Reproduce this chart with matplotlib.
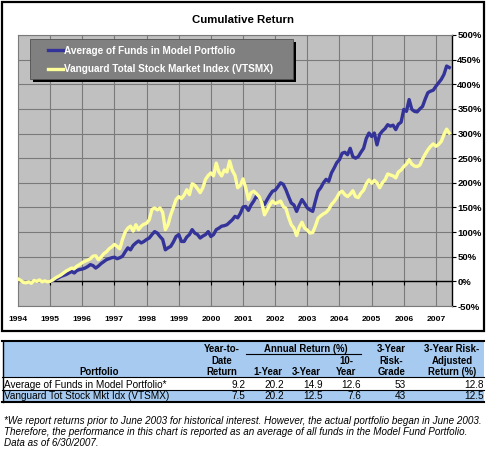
import numpy as np
import matplotlib
matplotlib.use("Agg")
import matplotlib.pyplot as plt
from matplotlib.patches import Rectangle
from matplotlib.lines import Line2D

plt.rcParams['font.family'] = ['Liberation Sans', 'DejaVu Sans']

W, H = 486, 449

# ---------------- data ----------------
start_year = 1994
year_ticks = list(range(1994, 2008))
ytick_vals = list(range(-50, 501, 50))
series_names = ["Average of Funds in Model Portfolio",
                "Vanguard Total Stock Market Index (VTSMX)"]

nan = np.nan
model_portfolio = [
    # 1994 (no data)
    nan, nan, nan, nan, nan, nan, nan, nan, nan, nan, nan, nan,
    # 1995
    0, 2, 4, 7, 10, 12, 14, 17, 20, 17, 22, 24,
    # 1996
    25, 27, 30, 34, 32, 27, 31, 36, 40, 44, 46, 48,
    # 1997
    49, 46, 48, 51, 60, 68, 64, 73, 78, 82, 78, 81,
    # 1998
    85, 88, 95, 101, 98, 91, 85, 64, 68, 71, 80, 91,
    # 1999
    95, 81, 81, 90, 95, 105, 98, 95, 88, 92, 95, 101,
    # 2000
    91, 95, 105, 108, 112, 113, 115, 120, 125, 132, 129, 138,
    # 2001
    151, 152, 144, 155, 163, 173, 169, 162, 156, 166, 175, 183,
    # 2002
    185, 192, 200, 197, 186, 172, 159, 155, 142, 155, 166, 158,
    # 2003
    149, 145, 142, 163, 183, 190, 200, 207, 203, 220, 230, 241,
    # 2004
    247, 260, 262, 257, 270, 253, 250, 253, 262, 270, 290, 301,
    # 2005
    294, 301, 277, 298, 305, 310, 318, 315, 317, 308, 319, 323,
    # 2006
    349, 345, 369, 349, 345, 344, 350, 355, 370, 383, 386, 388,
    # 2007
    396, 403, 410, 420, 437, 434,
]

vtsmx = [
    # 1994
    5, 2, -2, -3, -1, -4, 2, 0, 3, -1, 1, -1,
    # 1995
    0, 3, 7, 10, 13, 17, 21, 24, 27, 26, 31, 34,
    # 1996
    38, 41, 43, 46, 51, 52, 44, 49, 56, 60, 66, 70,
    # 1997
    75, 71, 66, 85, 100, 108, 112, 102, 115, 105, 112, 116,
    # 1998
    118, 125, 146, 149, 145, 149, 140, 105, 115, 135, 150, 166,
    # 1999
    172, 168, 175, 186, 176, 198, 195, 188, 180, 190, 207, 215,
    # 2000
    220, 214, 240, 222, 214, 226, 222, 244, 225, 215, 190, 195,
    # 2001
    208, 190, 166, 180, 183, 178, 172, 160, 135, 145, 155, 163,
    # 2002
    158, 160, 163, 152, 148, 130, 115, 108, 93, 110, 120, 108,
    # 2003
    104, 98, 99, 112, 128, 133, 137, 140, 146, 156, 162, 170,
    # 2004
    180, 183, 176, 172, 177, 184, 172, 170, 179, 185, 198, 206,
    # 2005
    199, 205, 200, 190, 200, 206, 218, 216, 214, 210, 222, 226,
    # 2006
    233, 238, 247, 238, 234, 233, 236, 248, 258, 267, 274, 279,
    # 2007
    274, 278, 284, 298, 309, 301,
]

table_portfolios = ["Average of Funds in Model Portfolio*",
                    "Vanguard Tot Stock Mkt Idx (VTSMX)"]
ytd_return = ["9.2", "7.5"]
one_year = ["20.2", "20.2"]
three_year = ["14.9", "12.5"]
ten_year = ["12.6", "7.6"]
risk_grade = ["53", "43"]
risk_adj_return = ["12.8", "12.5"]

footnote_lines = [
    "*We report returns prior to June 2003 for historical interest. However, the actual portfolio began in June 2003.",
    "Therefore, the performance in this chart is reported as an average of all funds in the Model Fund Portfolio.",
    "Data as of 6/30/2007.",
]

# ---------------- figure ----------------
fig = plt.figure(figsize=(W / 100, H / 100), dpi=100)
fig.patch.set_facecolor('white')


def fx(x):
    return x / W


def fy(y):
    return 1 - y / H


# outer chart border
fig.add_artist(Rectangle((fx(2), fy(331)), (484 - 2) / W, (331 - 2) / H,
                         transform=fig.transFigure, fill=False,
                         ec='black', lw=1.6, zorder=0))

fig.text(fx(243), fy(23.3), "Cumulative Return", ha='center', va='baseline',
         fontsize=8.2, weight='bold')

ax = fig.add_axes([fx(18), fy(306), (452 - 18) / W, (306 - 35) / H])
ax.set_facecolor('#C0C0C0')
ax.set_xlim(1994, 2007.5)
ax.set_ylim(-50, 500)

x = start_year + np.arange(len(vtsmx)) / 12.0
xm = start_year + np.arange(len(model_portfolio)) / 12.0

# grid
for yr in year_ticks[1:]:
    ax.axvline(yr, color='#7a7a7a', lw=0.8, zorder=1)
for v in ytick_vals:
    ax.axhline(v, color='#7a7a7a', lw=0.8, zorder=1)
ax.axhline(0, color='black', lw=1.0, zorder=2)
ax.vlines(year_ticks, -7, 0, color='black', lw=0.8, zorder=2)

l1, = ax.plot(xm, model_portfolio, color='#333399', lw=2.4, zorder=3,
              solid_joinstyle='round', label=series_names[0])
l2, = ax.plot(x, vtsmx, color='#FFFF99', lw=2.4, zorder=4,
              solid_joinstyle='round', label=series_names[1])

for s in ['left', 'top', 'bottom']:
    ax.spines[s].set_color('#7a7a7a')
    ax.spines[s].set_linewidth(0.8)
ax.spines['right'].set_color('black')
ax.spines['right'].set_linewidth(1.0)

ax.yaxis.tick_right()
ax.set_yticks(ytick_vals)
ax.set_yticklabels([f"{v}%" for v in ytick_vals])
ax.tick_params(axis='y', direction='out', length=3, width=0.8, pad=0.8,
               labelsize=6.8, colors='black')
for t in ax.get_yticklabels():
    t.set_fontweight('bold')
ax.set_xticks(year_ticks)
ax.set_xticklabels([str(y) for y in year_ticks])
ax.tick_params(axis='x', length=0, pad=7, labelsize=6.1)
for t in ax.get_xticklabels():
    t.set_fontweight('bold')

# legend box with shadow
fig.add_artist(Rectangle((fx(32.5), fy(81.5)), (293 - 30) / W, (79 - 39) / H,
                         transform=fig.transFigure, fc='black', ec='none', zorder=5))
fig.add_artist(Rectangle((fx(30), fy(79)), (293 - 30) / W, (79 - 39) / H,
                         transform=fig.transFigure, fc='#808080', ec='#505050',
                         lw=0.6, zorder=6))
leg = fig.legend(handles=[l1, l2], labels=series_names, loc='upper left',
                 bbox_to_anchor=(fx(48), fy(45.5)), bbox_transform=fig.transFigure,
                 frameon=False, borderpad=0, borderaxespad=0,
                 handlelength=1.5, handletextpad=0.15, labelspacing=0.85,
                 prop={'size': 7.2, 'weight': 'bold'}, labelcolor='white')
leg.set_zorder(7)

# ---------------- table ----------------
blue = '#A6CAF0'
fig.add_artist(Rectangle((fx(3), fy(377)), (484 - 3) / W, (377 - 341) / H,
                         transform=fig.transFigure, fc=blue, ec='none'))
fig.add_artist(Rectangle((fx(3), fy(402)), (484 - 3) / W, (402 - 390) / H,
                         transform=fig.transFigure, fc=blue, ec='none'))


def hline(y, x0, x1, lw):
    fig.add_artist(Line2D([fx(x0), fx(x1)], [fy(y), fy(y)],
                          transform=fig.transFigure, color='black', lw=lw))


hline(341, 2, 484, 1.5)
hline(377.3, 2, 484, 0.8)
hline(390.2, 2, 484, 0.8)
hline(401.8, 2, 484, 1.5)
hline(353.6, 246, 361, 0.8)
fig.add_artist(Line2D([fx(2.6), fx(2.6)], [fy(341), fy(402)],
                      transform=fig.transFigure, color='black', lw=1.0))

hfs = 6.9
hdr = [
    (99.5, 375.3, "Portfolio"),
    (222, 352.3, "Year-to-"), (222, 364, "Date"), (222, 375.3, "Return"),
    (306.3, 352.3, "Annual Return (%)"),
    (267.5, 375.3, "1-Year"), (305.8, 375.3, "3-Year"),
    (346, 364, "10-"), (346, 375.3, "Year"),
    (391.5, 352.3, "3-Year"), (391.5, 364, "Risk-"), (391.5, 375.3, "Grade"),
    (452, 352.3, "3-Year Risk-"), (452, 364, "Adjusted"), (452, 375.3, "Return (%)"),
]
for hx, hy, s in hdr:
    fig.text(fx(hx), fy(hy), s, ha='center', va='baseline', fontsize=hfs,
             weight='bold')

rfs = 7.2
row_base = [387.7, 399.3]
col_right = [245, 284, 323, 361, 406, 484]
cols = [ytd_return, one_year, three_year, ten_year, risk_grade, risk_adj_return]
for i, name in enumerate(table_portfolios):
    fig.text(fx(4), fy(row_base[i]), name, ha='left', va='baseline', fontsize=rfs)
    for cr, col in zip(col_right, cols):
        fig.text(fx(cr), fy(row_base[i]), col[i], ha='right', va='baseline',
                 fontsize=rfs)

# footnote, auto-fit width of first line
fn_base = [424, 434.8, 445.6]
t0 = fig.text(fx(4), fy(fn_base[0]), footnote_lines[0], ha='left', va='baseline',
              fontsize=7, style='italic')
r = fig.canvas.get_renderer()
wpx = t0.get_window_extent(r).width
fs = 7 * 479.0 / wpx
t0.set_fontsize(fs)
for yb, s in zip(fn_base[1:], footnote_lines[1:]):
    fig.text(fx(4), fy(yb), s, ha='left', va='baseline', fontsize=fs,
             style='italic')

fig.savefig("out.png", dpi=100, facecolor='white')
